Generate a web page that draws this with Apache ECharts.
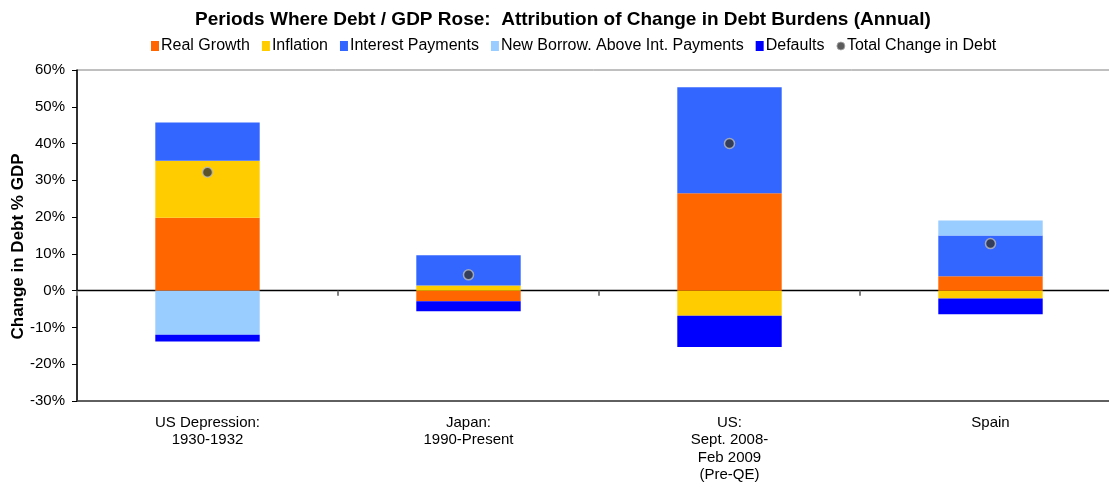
<!DOCTYPE html>
<html>
<head>
<meta charset="utf-8">
<script src="https://cdn.jsdelivr.net/npm/echarts@6/dist/echarts.min.js"></script>
<style>
  html, body { margin: 0; padding: 0; background: #fff; }
  #chart { width: 1109px; height: 484px; }
</style>
</head>
<body>
<div id="chart"></div>
<script>
// Episodes where debt / GDP rose
const categories = [
  'US Depression:\n1930-1932',
  'Japan:\n1990-Present',
  'US:\nSept. 2008-\nFeb 2009\n(Pre-QE)',
  'Spain'
];

// Contributions to the change in debt burden, % of GDP
const realGrowth       = [19.8, -2.9, 26.5, 3.9];
const inflation        = [15.5, 1.4, -6.8, -2.1];
const interestPayments = [10.4, 8.2, 28.8, 11.1];
const newBorrowing     = [-12.0, 0, 0, 4.1];
const defaults         = [-1.8, -2.7, -8.5, -4.3];
const totalChange      = [32.2, 4.3, 40.0, 12.8];

const yTicks = { min: -30, max: 60, interval: 10 };

const FONT = '"Liberation Sans", Arial, sans-serif';

function barSeries(name, data, color) {
  return {
    name: name,
    type: 'bar',
    stack: 'debt',
    data: data,
    barWidth: '40%',
    itemStyle: { color: color },
    emphasis: { disabled: true }
  };
}

const chart = echarts.init(document.getElementById('chart'));
chart.setOption({
  animation: false,
  textStyle: { fontFamily: FONT },
  title: {
    text: 'Periods Where Debt / GDP Rose:  Attribution of Change in Debt Burdens (Annual)',
    left: 190,
    top: 5,
    textStyle: { fontFamily: FONT, fontSize: 19, fontWeight: 'bold', color: '#000' }
  },
  legend: {
    top: 33,
    left: 146,
    itemWidth: 8,
    itemHeight: 10,
    itemGap: 12,
    textStyle: { fontFamily: FONT, fontSize: 16, color: '#000', padding: [0, 0, 0, -3] },
    data: [
      { name: 'Real Growth', icon: 'rect' },
      { name: 'Inflation', icon: 'rect' },
      { name: 'Interest Payments', icon: 'rect' },
      { name: 'New Borrow. Above Int. Payments', icon: 'rect' },
      { name: 'Defaults', icon: 'rect' },
      { name: 'Total Change in Debt', icon: 'circle', itemStyle: { color: '#333', borderColor: '#aaa', borderWidth: 1 } }
    ]
  },
  grid: {
    left: 77,
    top: 70,
    width: 1044,
    height: 331,
    outerBoundsMode: 'none',
    show: true,
    borderColor: '#808080',
    borderWidth: 1,
    containLabel: false
  },
  xAxis: [
    {
      type: 'category',
      data: categories,
      axisLine: { onZero: true, lineStyle: { color: '#000', width: 1.3 } },
      axisTick: { show: true, length: 5, lineStyle: { color: '#808080', width: 2 } },
      axisLabel: { show: false }
    },
    {
      type: 'category',
      data: categories,
      position: 'bottom',
      axisLine: { onZero: false, lineStyle: { color: '#404040', width: 1.5 } },
      axisTick: { show: false },
      axisLabel: {
        margin: 13,
        fontFamily: FONT,
        fontSize: 15,
        color: '#000',
        lineHeight: 17.5
      }
    }
  ],
  yAxis: {
    type: 'value',
    min: yTicks.min,
    max: yTicks.max,
    interval: yTicks.interval,
    name: 'Change in Debt % GDP',
    nameLocation: 'middle',
    nameGap: 50,
    nameMoveOverlap: false,
    nameTextStyle: { fontFamily: FONT, fontSize: 17, fontWeight: 'bold', color: '#000', padding: [0, 22, 0, 0] },
    axisLine: { show: true, lineStyle: { color: '#000', width: 1.5 } },
    axisTick: { show: true, length: 5, lineStyle: { color: '#000' } },
    splitLine: { show: false },
    axisLabel: {
      formatter: '{value}%',
      fontFamily: FONT,
      fontSize: 15,
      color: '#000',
      margin: 12
    }
  },
  series: [
    barSeries('Real Growth', realGrowth, '#FF6600'),
    barSeries('Inflation', inflation, '#FFCC00'),
    barSeries('Interest Payments', interestPayments, '#3366FF'),
    barSeries('New Borrow. Above Int. Payments', newBorrowing, '#99CCFF'),
    barSeries('Defaults', defaults, '#0000FF'),
    {
      name: 'Total Change in Debt',
      type: 'scatter',
      data: totalChange,
      symbol: 'circle',
      symbolSize: 10,
      z: 5,
      itemStyle: { color: '#333333', borderColor: '#bbbbbb', borderWidth: 1.5 },
      emphasis: { disabled: true }
    }
  ]
});
</script>
</body>
</html>
